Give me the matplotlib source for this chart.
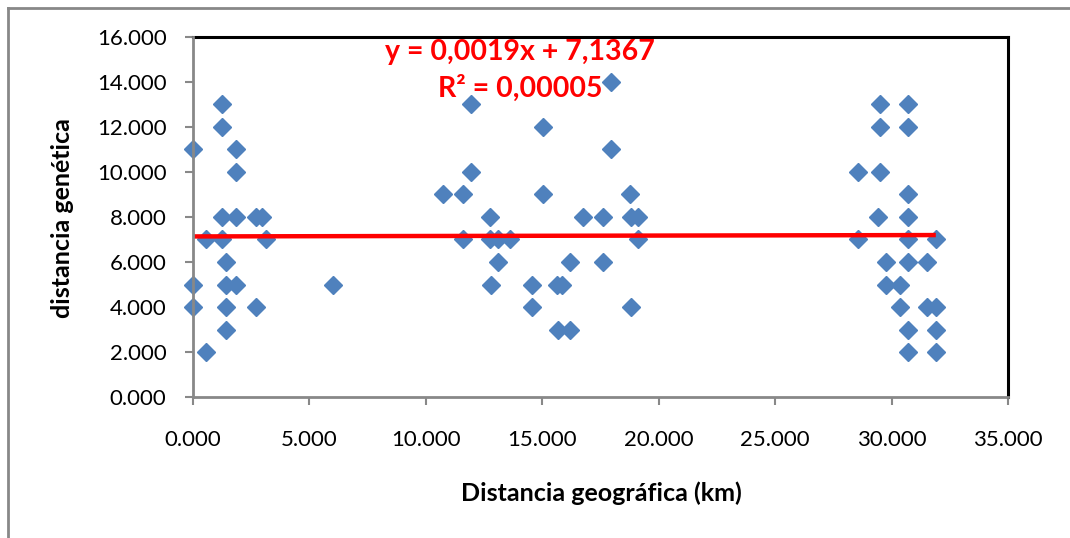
import matplotlib
matplotlib.use("Agg")
import matplotlib.pyplot as plt
from matplotlib.lines import Line2D

# DATA
dist_km = [
    0.00, 0.00, 0.00, 0.56, 0.56,
    1.26, 1.26, 1.26, 1.26, 1.42, 1.42, 1.42, 1.42,
    1.85, 1.85, 1.85, 1.85, 2.70, 2.95, 2.70, 3.13, 6.02,
    10.72, 11.61, 11.61, 11.94, 11.94, 12.75, 12.75, 12.78, 13.08, 13.08, 13.61,
    14.54, 14.54, 15.01, 15.01, 15.65, 15.83, 15.69, 16.19, 16.19, 16.76,
    17.62, 17.62, 17.93, 17.93, 18.76, 18.81, 19.12, 19.12, 18.81,
    28.54, 28.54, 29.50, 29.50, 29.50, 29.43, 30.71, 30.71, 30.71, 30.71, 30.71,
    29.78, 30.71, 31.52, 29.78, 30.36, 30.36, 31.50, 31.90, 30.71, 31.90,
    30.71, 31.90, 31.90,
]
dist_gen = [
    11, 5, 4, 7, 2,
    13, 12, 8, 7, 6, 5, 4, 3,
    11, 10, 8, 5, 8, 8, 4, 7, 5,
    9, 9, 7, 13, 10, 8, 7, 5, 7, 6, 7,
    5, 4, 12, 9, 5, 5, 3, 3, 6, 8,
    8, 6, 14, 11, 9, 8, 8, 7, 4,
    10, 7, 13, 12, 10, 8, 13, 12, 9, 8, 7,
    6, 6, 6, 5, 5, 4, 4, 4, 3, 3,
    2, 2, 7,
]
slope, intercept = 0.0019, 7.1367
eq_text = "y = 0,0019x + 7,1367"
r2_text = "R² = 0,00005"
x_ticks = [0, 5, 10, 15, 20, 25, 30, 35]
y_ticks = [0, 2, 4, 6, 8, 10, 12, 14, 16]

plt.rcParams["font.family"] = ["Lato", "DejaVu Sans"]

W, H = 1070, 538
fig = plt.figure(figsize=(W / 100, H / 100), dpi=100)
ax = fig.add_axes([193 / W, 1 - 397 / H, (1008 - 193) / W, (397 - 37) / H])

ax.plot(dist_km, dist_gen, linestyle="none", marker="D", markersize=9,
        color="#4F81BD", zorder=3, clip_on=False)

x_end = max(dist_km)
ax.plot([0, x_end], [intercept, intercept + slope * x_end], color="#FF0000",
        linewidth=3.2, zorder=4, solid_capstyle="butt")

ax.set_xlim(0, 35)
ax.set_ylim(0, 16)
ax.set_xticks(x_ticks)
ax.set_yticks(y_ticks)
ax.set_xticklabels([f"{v:.3f}" for v in x_ticks])
ax.set_yticklabels([f"{v:.3f}" for v in y_ticks])
ax.tick_params(axis="both", direction="out", length=6, width=1.5, color="#888888",
               labelsize=16, labelcolor="black")
ax.tick_params(axis="y", pad=13)
ax.tick_params(axis="x", pad=18)

for side in ("top", "right"):
    ax.spines[side].set_color("black")
    ax.spines[side].set_linewidth(2.2)
for side in ("left", "bottom"):
    ax.spines[side].set_color("#888888")
    ax.spines[side].set_linewidth(2)
    ax.spines[side].set_zorder(5)

fig.text(520 / W, 1 - 52 / H, eq_text, color="#FF0000", fontsize=20.5,
         fontweight="bold", ha="center", va="center")
fig.text(520 / W, 1 - 88 / H, r2_text, color="#FF0000", fontsize=20.5,
         fontweight="bold", ha="center", va="center")

fig.text(601 / W, 1 - 493 / H, "Distancia geográfica (km)", fontsize=18,
         fontweight="bold", ha="center", va="center")
fig.text(62 / W, 1 - 218 / H, "distancia genética", fontsize=18,
         fontweight="bold", ha="center", va="center", rotation=90)

# outer chart-area border (left and top only visible)
fig.add_artist(Line2D([8 / W, 8 / W], [0, 1 - 8 / H], color="#888888",
                      linewidth=2, transform=fig.transFigure))
fig.add_artist(Line2D([8 / W, 1], [1 - 8 / H, 1 - 8 / H], color="#888888",
                      linewidth=2, transform=fig.transFigure))

fig.savefig("out.png", dpi=100)
